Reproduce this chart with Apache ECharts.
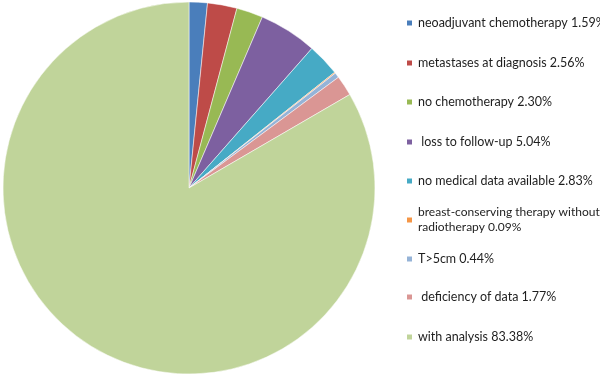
<!DOCTYPE html>
<html>
<head>
<meta charset="utf-8">
<script src="https://cdn.jsdelivr.net/npm/echarts@6/dist/echarts.min.js"></script>
<style>
  html, body { margin: 0; padding: 0; background: #fff; }
  #chart { width: 600px; height: 377px; }
</style>
</head>
<body>
<div id="chart"></div>
<script>
// slice names, in clockwise order from 12 o'clock
let categories = [
  'neoadjuvant chemotherapy',
  'metastases at diagnosis',
  'no chemotherapy',
  ' loss to follow-up',
  'no medical data available',
  'breast-conserving therapy without\nradiotherapy',
  'T>5cm',
  ' deficiency of data',
  'with analysis'
]
// percent shares
let values = [1.59, 2.56, 2.30, 5.04, 2.83, 0.09, 0.44, 1.77, 83.38]
let colors = ['#4a7ebb', '#be4b48', '#98b954', '#7d60a0', '#46aac5', '#f59646', '#95b3d7', '#da9694', '#c0d49a']
// where each legend row sits
let legendTops = [15.5, 55.5, 94.5, 134.5, 173.5, 197.5, 251.5, 289.5, 329.5]

let pieData = categories.map((name, i) => ({
  name: name,
  value: values[i],
  itemStyle: { color: colors[i] }
}))

let legends = categories.map((name, i) => {
  let twoLines = name.indexOf('\n') >= 0
  return {
    data: [name],
    orient: 'vertical',
    left: 405,
    top: legendTops[i],
    padding: 0,
    itemWidth: 7,
    itemHeight: 7,
    icon: 'rect',
    selectedMode: false,
    formatter: n => n + ' ' + values[categories.indexOf(n)].toFixed(2) + '%',
    textStyle: {
      fontFamily: 'Lato',
      fontSize: twoLines ? 12 : 12.5,
      lineHeight: 15,
      color: '#1e1e1e',
      padding: twoLines ? [15, 0, 0, 0] : 0
    }
  }
})

let chart = echarts.init(document.getElementById('chart'))
chart.setOption({
  animation: false,
  legend: legends,
  series: [{
    type: 'pie',
    center: [189, 188],
    radius: 186,
    startAngle: 90,
    clockwise: true,
    label: { show: false },
    labelLine: { show: false },
    emphasis: { disabled: true },
    itemStyle: { borderColor: '#ffffff', borderWidth: 0.5 },
    data: pieData
  }]
})
</script>
</body>
</html>
